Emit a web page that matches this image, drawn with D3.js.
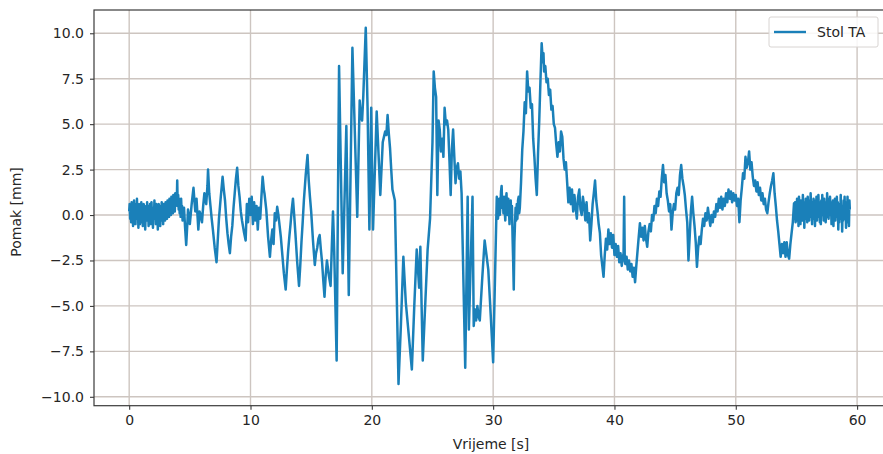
<!DOCTYPE html>
<html>
<head>
<meta charset="utf-8">
<script src="https://cdn.jsdelivr.net/npm/d3@7/dist/d3.min.js"></script>
<style>
  html, body { margin: 0; padding: 0; background: #fff; }
  svg { display: block; font-family: "DejaVu Sans", sans-serif; }
</style>
</head>
<body>
<svg id="chart" width="883" height="454"></svg>
<script>
// Shake table (Stol TA) displacement record, [time s, displacement mm]
const quietStart = [
  [0.00,0.2],[0.04,0.6],[0.08,-0.2],[0.12,0.5],[0.16,-0.4],[0.20,0.7],[0.24,-0.1],[0.28,0.4],[0.32,-0.6],[0.36,0.3],
  [0.40,0.8],[0.44,-0.3],[0.48,0.5],[0.52,-0.5],[0.56,0.6],[0.60,0.0],[0.64,0.9],[0.68,-0.2],[0.72,0.4],[0.76,-0.7],
  [0.80,0.2],[0.84,0.6],[0.88,-0.5],[0.92,0.3],[0.96,-0.2],[1.00,0.7],[1.04,-0.4],[1.08,0.5],[1.12,-0.6],[1.16,0.2],
  [1.20,0.6],[1.24,-0.3],[1.28,0.4],[1.32,-0.8],[1.36,0.1],[1.40,0.5],[1.44,-0.3],[1.48,0.7],[1.52,-0.1],[1.56,0.4],
  [1.60,-0.6],[1.64,0.5],[1.68,-0.2],[1.72,0.6],[1.76,-0.5],[1.80,0.3],[1.84,0.7],[1.88,-0.4],[1.92,0.2],[1.96,-0.7],
  [2.00,0.4],[2.04,-0.2],[2.08,0.8],[2.12,0.0],[2.16,0.5],[2.20,-0.5],[2.24,0.6],[2.28,-0.3],[2.32,0.3],[2.36,-0.8],
  [2.40,0.2],[2.44,0.6],[2.48,-0.4],[2.52,0.4],[2.56,-0.6],[2.60,0.5],[2.64,-0.1],[2.68,0.7],[2.72,-0.3],[2.76,0.3],
  [2.80,-0.5],[2.84,0.6],[2.88,0.0],[2.92,0.5],[2.96,-0.3],[3.00,0.7],[3.04,0.1],[3.08,0.5],[3.12,-0.2],[3.16,0.8],
  [3.20,0.2],[3.24,0.6],[3.28,-0.1],[3.32,0.9],[3.36,0.2],[3.40,0.7],[3.44,0.0],[3.48,1.0],[3.52,0.3],[3.56,0.8],
  [3.60,0.1],[3.64,1.1],[3.68,0.3],[3.72,0.9],[3.76,0.2],[3.80,1.2],[3.84,0.5],[3.88,1.0],[3.92,0.6],[3.96,1.9],
  [4.00,0.5],[4.04,1.1],[4.08,0.3],[4.12,0.9],[4.16,0.1],[4.20,0.7],[4.24,-0.1],[4.28,0.9],[4.32,0.2],[4.36,0.5],
  [4.40,-0.3],[4.44,0.3],[4.48,-0.2],[4.52,0.4]
];
const buildUp = [
  [4.6,-0.6],[4.7,-1.65],[4.8,-0.4],[4.85,0.3],[4.95,-0.2],[5.0,-0.5],[5.15,0.6],[5.3,1.5],[5.4,0.6],[5.45,0.2],
  [5.55,0.9],[5.7,-0.8],[5.8,0.2],[5.85,0.1],[6.0,-0.4],[6.1,0.5],[6.2,1.2],[6.3,0.8],[6.35,0.6],[6.45,1.6],
  [6.5,2.5],[6.6,1.2],[6.7,0.5],[6.8,-0.2],[6.9,-0.8],[7.05,-1.8],[7.2,-2.6],[7.3,-1.4],[7.4,-0.2],[7.55,1.0],
  [7.7,2.1],[7.8,1.4],[7.9,0.8],[8.0,-0.2],[8.1,-1.0],[8.2,-1.6],[8.3,-2.1],[8.4,-1.2],[8.5,-0.6],[8.6,0.4],
  [8.7,1.2],[8.8,2.0],[8.9,2.6],[9.0,1.6],[9.1,1.0],[9.2,0.2],[9.3,-0.3],[9.45,-0.9],[9.6,-1.4],[9.7,0.6],
  [9.8,-0.4],[9.9,0.9],[10.0,0.0],[10.1,1.0],[10.2,-0.5],[10.3,0.7],[10.4,-0.3],[10.5,0.5],[10.6,-0.8],[10.7,0.4],
  [10.8,-0.2],[10.9,1.0],[11.0,2.1],[11.1,1.4],[11.15,1.2],[11.3,0.3],[11.45,-1.2],[11.6,-2.3],[11.7,-1.4],[11.8,-0.8],
  [11.9,-1.6],[12.0,0.1]
];
const swing = [
  [12.1,-0.3],[12.2,0.45],[12.3,0.0],[12.4,-0.6],[12.5,-1.2],[12.6,-2.0],[12.75,-3.2],[12.9,-4.1],[13.0,-3.0],[13.1,-2.0],
  [13.2,-1.2],[13.3,-0.5],[13.4,0.3],[13.5,0.9],[13.6,0.0],[13.7,-1.0],[13.85,-2.6],[14.0,-3.9],[14.1,-2.8],[14.2,-1.5],
  [14.3,-0.4],[14.4,0.8],[14.55,2.2],[14.7,3.3],[14.8,1.9],[14.9,1.0],[15.0,0.2],[15.15,-1.4],[15.3,-2.75],[15.4,-2.1],
  [15.5,-1.8],[15.6,-1.3],[15.7,-1.1],[15.8,-1.9],[15.9,-2.6],[16.0,-3.6],[16.1,-4.5],[16.2,-3.3],[16.3,-2.5],[16.45,-3.3],
  [16.6,-3.9],[16.7,-1.8],[16.8,0.2],[16.9,-2.0]
];
const strongPhase1 = [
  [17.1,-8.0],[17.3,8.2],[17.6,-3.2],[17.9,4.9],[18.1,-4.4],[18.4,9.2],[18.8,-0.1],[19.0,6.3],[19.1,5.4],[19.2,5.2],
  [19.3,6.6],[19.5,10.3],[19.65,5.9],[19.8,-0.8],[19.95,5.9],[20.1,-0.8],[20.4,5.7],[20.7,1.1],[20.9,4.0],[21.0,4.3],
  [21.1,4.6],[21.2,4.4],[21.3,5.5],[21.4,4.5],[21.5,3.7],[21.6,2.5],[21.7,1.4],[21.8,1.1],[21.9,0.8]
];
const strongPhase2 = [
  [22.2,-9.3],[22.4,-6.0],[22.6,-2.3],[22.8,-4.8],[23.1,-7.0],[23.3,-8.5],[23.5,-5.0],[23.7,-1.9],[23.9,-4.0],[24.0,-1.75],
  [24.2,-8.0],[24.6,-1.9],[24.8,-0.2],[25.0,4.0],[25.1,7.9],[25.2,7.0],[25.3,6.5],[25.4,1.1],[25.5,5.2],[25.6,4.7],
  [25.7,3.5],[25.8,4.2],[25.9,3.2],[26.0,5.9],[26.1,5.0],[26.2,5.2],[26.3,4.7],[26.4,3.0],[26.5,1.1],[26.6,3.6],
  [26.7,4.7],[26.8,3.2],[26.9,1.75],[27.0,2.6],[27.1,2.85],[27.2,2.0],[27.3,2.4],[27.4,1.2],[27.7,-8.4],[27.9,1.0],
  [28.0,-6.3],[28.3,1.0],[28.4,-6.1],[28.5,-5.2],[28.6,-5.8],[28.7,-5.0],[28.8,-5.6],[28.9,-5.8],[29.1,-3.5],[29.3,-1.4],
  [29.45,-2.2],[29.6,-3.0],[29.8,-5.5],[30.0,-8.1],[30.3,1.0]
];
const pause = [
  [30.35,0.2],[30.4,-0.2],[30.45,0.6],[30.5,0.9],[30.55,0.0],[30.6,0.5],[30.65,1.3],[30.7,1.6],[30.75,0.4],[30.8,0.9],
  [30.85,0.1],[30.9,1.0],[30.95,0.3],[31.0,-0.3],[31.05,0.7],[31.1,1.2],[31.15,0.2],[31.2,0.0],[31.25,0.9],[31.3,0.4],
  [31.35,-0.5],[31.4,0.3],[31.45,0.8],[31.5,-0.2],[31.55,0.5],[31.6,-1.2],[31.65,-2.5],[31.7,-4.1],[31.75,-1.5],[31.8,-0.5],
  [31.85,0.4],[31.9,-0.3],[31.95,0.6],[32.0,-0.2],[32.05,0.8],[32.1,1.0],[32.15,0.1],[32.2,0.4]
];
const strongPhase3 = [
  [32.3,1.8],[32.4,3.6],[32.5,4.6],[32.6,6.2],[32.7,5.6],[32.8,7.9],[32.9,6.8],[33.0,7.0],[33.1,5.9],[33.2,6.1],
  [33.3,4.2],[33.4,3.2],[33.5,2.0],[33.6,1.1],[33.7,3.4],[33.8,5.2],[33.9,7.4],[34.0,9.45],[34.1,8.4],[34.15,8.9],
  [34.2,7.9],[34.3,8.2],[34.4,7.3],[34.5,7.5],[34.6,6.6],[34.7,6.9],[34.8,5.8],[34.9,6.0],[35.0,5.0],[35.1,4.8],
  [35.2,3.9],[35.3,3.2],[35.4,4.0],[35.5,3.5],[35.6,4.6],[35.7,4.3],[35.8,3.1],[35.9,2.5],[36.0,2.9],[36.1,1.8]
];
const decay = [
  [36.2,0.7],[36.3,1.5],[36.4,0.6],[36.5,1.4],[36.6,0.2],[36.7,1.1],[36.8,0.4],[36.9,-0.2],[37.0,1.0],[37.1,1.4],
  [37.2,0.3],[37.3,0.0],[37.4,1.0],[37.5,0.5],[37.6,-0.3],[37.7,0.7],[37.8,-0.4],[37.9,0.1],[38.0,-1.4],[38.1,-0.5],
  [38.2,0.6],[38.3,1.2],[38.4,1.9],[38.5,0.8],[38.6,0.2],[38.7,-0.5],[38.8,-1.0],[38.9,-2.2],[39.0,-2.8],[39.1,-3.4],
  [39.2,-2.2],[39.3,-1.3],[39.4,-1.9],[39.5,-0.8],[39.6,-1.6],[39.7,-1.0],[39.8,-1.8],[39.9,-1.1],[40.0,-2.2],[40.1,-1.6],
  [40.2,-2.3],[40.3,-1.7],[40.4,-2.6],[40.5,-2.1],[40.6,-2.8],[40.7,-2.3],[40.75,-2.1],[40.8,1.0],[40.85,-2.5],[40.9,-2.7],
  [41.0,-2.3],[41.1,-3.0],[41.2,-2.5],[41.3,-3.1],[41.4,-2.7],[41.5,-3.4],[41.6,-2.9],[41.7,-3.7],[41.8,-2.8],[41.9,-2.0],
  [42.0,-1.2],[42.1,-0.45],[42.2,-1.2],[42.3,-0.7],[42.4,-1.4],[42.5,-0.6],[42.6,-1.3],[42.7,-1.75],[42.8,-0.9],[42.9,-0.5],
  [43.0,-0.9],[43.1,0.0],[43.2,-0.3],[43.3,0.5],[43.4,0.1],[43.5,0.9],[43.6,0.5],[43.7,1.3],[43.8,1.0],[43.9,2.0],
  [44.0,2.75],[44.1,1.8],[44.2,2.2],[44.3,1.2],[44.4,0.8],[44.5,0.2],[44.6,0.6],[44.7,-0.8],[44.8,0.1],[44.9,0.6],
  [45.0,0.3],[45.1,1.2],[45.2,1.5],[45.3,1.1],[45.4,2.2],[45.5,2.75],[45.6,2.0],[45.7,1.6],[45.8,1.1],[45.9,0.3],
  [46.0,-0.4],[46.1,-2.5],[46.2,-1.2],[46.3,0.2],[46.4,1.0],[46.5,0.1],[46.6,-0.6],[46.7,-1.5],[46.8,-2.85],[46.9,-1.8],
  [47.0,-1.2],[47.1,-1.6],[47.2,-0.8],[47.3,-0.2],[47.4,-0.6],[47.5,0.1],[47.6,-0.3],[47.7,0.4],[47.8,-0.1],[47.9,-0.6],
  [48.0,0.0],[48.1,-0.4],[48.2,0.2],[48.3,-0.1],[48.4,0.6],[48.5,0.2],[48.6,0.9],[48.7,0.4],[48.8,1.0],[48.9,0.3],
  [49.0,0.9],[49.1,0.5],[49.2,1.2],[49.3,0.7],[49.4,1.4],[49.5,0.9],[49.6,1.3],[49.7,0.7],[49.8,1.2],[49.9,0.8],
  [50.0,1.1],[50.1,0.5],[50.2,0.9],[50.3,-0.4],[50.4,0.8],[50.5,1.5],[50.6,2.3],[50.7,2.0],[50.8,3.2],[50.9,2.6],
  [51.0,2.9],[51.1,3.5],[51.2,2.5],[51.3,2.9],[51.4,2.1],[51.5,1.6],[51.6,1.9],[51.7,1.3],[51.8,1.8],[51.9,1.1],
  [52.0,1.5],[52.1,0.8],[52.2,1.2],[52.3,0.6],[52.4,0.9],[52.5,0.3],[52.6,0.1],[52.7,0.7],[52.8,1.2],[52.9,1.6],
  [53.0,1.9],[53.1,2.3],[53.2,1.2],[53.3,0.5],[53.4,-0.3],[53.5,-0.9],[53.6,-1.6],[53.7,-2.3],[53.8,-1.6],[53.9,-2.1],
  [54.0,-1.5],[54.1,-2.3],[54.2,-1.5],[54.3,-2.2],[54.4,-2.4],[54.5,-1.6],[54.6,-1.0],[54.7,-0.4],[54.8,0.65]
];
const quietEnd = [
  [54.85,-0.2],[54.89,0.7],[54.93,-0.4],[54.97,0.5],[55.01,0.0],[55.05,0.9],[55.09,-0.3],[55.13,0.6],[55.17,-0.6],[55.21,1.0],
  [55.25,0.1],[55.29,0.5],[55.33,-0.5],[55.37,0.8],[55.41,-0.1],[55.45,0.6],[55.49,-0.3],[55.53,1.1],[55.57,0.2],[55.61,0.7],
  [55.65,-0.7],[55.69,0.4],[55.73,-0.2],[55.77,0.9],[55.81,0.0],[55.85,0.6],[55.89,-0.4],[55.93,1.0],[55.97,0.2],[56.01,0.8],
  [56.05,-0.3],[56.09,0.5],[56.13,-0.1],[56.17,1.2],[56.21,0.3],[56.25,0.7],[56.29,-0.5],[56.33,0.6],[56.37,-0.2],[56.41,0.9],
  [56.45,0.0],[56.49,0.5],[56.53,-0.6],[56.57,0.8],[56.61,0.1],[56.65,1.0],[56.69,-0.3],[56.73,0.6],[56.77,-0.1],[56.81,1.1],
  [56.85,0.2],[56.89,0.7],[56.93,-0.4],[56.97,0.5],[57.01,-0.5],[57.05,0.8],[57.09,0.0],[57.13,1.1],[57.17,0.2],[57.21,0.6],
  [57.25,-0.3],[57.29,0.9],[57.33,0.1],[57.37,0.7],[57.41,-0.4],[57.45,0.5],[57.49,-0.1],[57.53,1.2],[57.57,0.3],[57.61,0.9],
  [57.65,-0.2],[57.69,0.6],[57.73,0.0],[57.77,1.0],[57.81,0.2],[57.85,0.7],[57.89,-0.5],[57.93,0.4],[57.97,-0.2],[58.01,0.8],
  [58.05,-0.6],[58.09,0.5],[58.13,0.0],[58.17,0.9],[58.21,-0.3],[58.25,0.6],[58.29,-0.1],[58.33,1.0],[58.37,0.1],[58.41,0.7],
  [58.45,-0.8],[58.49,0.3],[58.53,-0.4],[58.57,0.6],[58.61,-0.2],[58.65,1.1],[58.69,0.0],[58.73,0.5],[58.77,-0.9],[58.81,0.4],
  [58.85,-0.3],[58.89,0.8],[58.93,-0.1],[58.97,1.0],[59.01,-0.2],[59.05,0.5],[59.09,-0.7],[59.13,0.7],[59.17,0.0],[59.21,1.0],
  [59.25,-0.4],[59.29,0.6],[59.33,-0.6],[59.37,0.8],[59.4,0.3]
];
const xTicks = [0, 10, 20, 30, 40, 50, 60];
const yTicks = [-10, -7.5, -5, -2.5, 0, 2.5, 5, 7.5, 10];
const seriesName = "Stol TA";
const xLabel = "Vrijeme [s]";
const yLabel = "Pomak [mm]";

const record = [].concat(quietStart, buildUp, swing, strongPhase1, strongPhase2,
                         pause, strongPhase3, decay, quietEnd);

const svg = d3.select("#chart");
const plot = { left: 94, right: 885, top: 10, bottom: 405.7 };

const x = d3.scaleLinear().domain([-2.9, 62.3]).range([plot.left, plot.right]);
const y = d3.scaleLinear().domain([-10.49, 11.28]).range([plot.bottom, plot.top]);

const gridColor = "#cdc5c0";
const lineColor = "#1a80b9";
const inkColor = "#262626";

// grid lines
const grid = svg.append("g");
grid.selectAll(".gx").data(xTicks).join("line")
  .attr("x1", d => x(d)).attr("x2", d => x(d))
  .attr("y1", plot.top).attr("y2", plot.bottom)
  .attr("stroke", gridColor).attr("stroke-width", 1.4);
grid.selectAll(".gy").data(yTicks).join("line")
  .attr("x1", plot.left).attr("x2", plot.right)
  .attr("y1", d => y(d)).attr("y2", d => y(d))
  .attr("stroke", gridColor).attr("stroke-width", 1.4);

// displacement trace
svg.append("path")
  .datum(record)
  .attr("fill", "none")
  .attr("stroke", lineColor)
  .attr("stroke-width", 2.5)
  .attr("stroke-linejoin", "round")
  .attr("d", d3.line().x(d => x(d[0])).y(d => y(d[1])));

// frame
svg.append("rect")
  .attr("x", plot.left).attr("y", plot.top)
  .attr("width", plot.right - plot.left).attr("height", plot.bottom - plot.top)
  .attr("fill", "none").attr("stroke", "#3a3a3a").attr("stroke-width", 1.2);

// axes
const xAxis = svg.append("g")
  .attr("transform", `translate(0,${plot.bottom})`)
  .call(d3.axisBottom(x).tickValues(xTicks).tickSize(4).tickPadding(5).tickFormat(d3.format("d")));
const yAxis = svg.append("g")
  .attr("transform", `translate(${plot.left},0)`)
  .call(d3.axisLeft(y).tickValues(yTicks).tickSize(4).tickPadding(6).tickFormat(d3.format(".1f")));
[xAxis, yAxis].forEach(g => {
  g.select(".domain").remove();
  g.selectAll(".tick line").attr("stroke", "#3a3a3a").attr("stroke-width", 1.1);
  g.selectAll(".tick text").attr("fill", inkColor)
    .style("font-size", "14px").style("font-family", "'DejaVu Sans', sans-serif");
});

// axis titles
svg.append("text")
  .attr("x", 491).attr("y", 449)
  .attr("text-anchor", "middle")
  .attr("fill", inkColor)
  .style("font-size", "14px")
  .text(xLabel);
svg.append("text")
  .attr("transform", "translate(21,212) rotate(-90)")
  .attr("text-anchor", "middle")
  .attr("fill", inkColor)
  .style("font-size", "14px")
  .text(yLabel);

// legend
const lg = svg.append("g");
lg.append("rect")
  .attr("x", 769).attr("y", 17).attr("width", 109).attr("height", 30)
  .attr("rx", 2)
  .attr("fill", "#fff").attr("fill-opacity", 0.85)
  .attr("stroke", "#d8d4d2").attr("stroke-width", 1);
lg.append("line")
  .attr("x1", 774).attr("x2", 806).attr("y1", 32).attr("y2", 32)
  .attr("stroke", lineColor).attr("stroke-width", 2.4);
lg.append("text")
  .attr("x", 817).attr("y", 37)
  .attr("fill", inkColor)
  .style("font-size", "14px")
  .text(seriesName);
</script>
</body>
</html>
